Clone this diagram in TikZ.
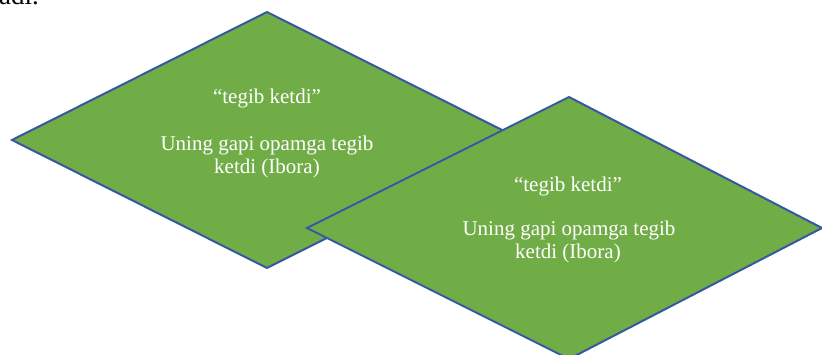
\documentclass[tikz,border=0pt]{standalone}
\usepackage{fontspec}
\setmainfont{Liberation Serif}
\definecolor{shapegreen}{HTML}{70AD47}
\definecolor{shapeline}{HTML}{3558A0}
\begin{document}
\begin{tikzpicture}[x=1pt,y=-1pt,
  rhomb/.style={fill=shapegreen,draw=shapeline,line width=2pt,line join=miter},
  lbl/.style={text=white,font=\fontsize{21}{23}\selectfont,inner sep=0pt,anchor=base}]
\useasboundingbox (0,0) rectangle (822,355);
% partial text from the line above
\node[anchor=base west,inner sep=0pt,font=\fontsize{27}{30}\selectfont] (top) at (-1,5) {adi.};
% diamond 1
\coordinate (a1) at (267,12);
\coordinate (b1) at (522,140);
\coordinate (c1) at (267,268);
\coordinate (d1) at (12,140);
\path[rhomb] (a1) -- (b1) -- (c1) -- (d1) -- cycle;
% diamond 2
\coordinate (a2) at (569,97);
\coordinate (b2) at (822,228);
\coordinate (c2) at (569,359);
\coordinate (d2) at (307,228);
\path[rhomb] (a2) -- (b2) -- (c2) -- (d2) -- cycle;
% text 1
\node[lbl] (t1a) at (267,104) {“tegib ketdi”};
\node[lbl] (t1b) at (267,151) {Uning gapi opamga tegib};
\node[lbl] (t1c) at (267,174) {ketdi (Ibora)};
% text 2
\node[lbl] (t2a) at (568,192) {“tegib ketdi”};
\node[lbl] (t2b) at (569,236) {Uning gapi opamga tegib};
\node[lbl] (t2c) at (568,259) {ketdi (Ibora)};
\end{tikzpicture}
\end{document}
